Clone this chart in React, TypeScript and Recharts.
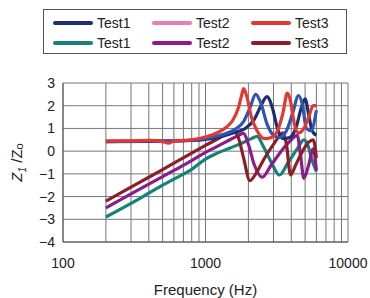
import React from "react";
import {
  LineChart,
  Line,
  XAxis,
  YAxis,
  CartesianGrid,
} from "recharts";

// frequency ticks (log grid) and y ticks
const xTicks = [
  100, 200, 300, 400, 500, 600, 700, 800, 900,
  1000, 2000, 3000, 4000, 5000, 6000, 7000, 8000, 9000, 10000,
];
const yTicks = [-4, -3, -2, -1, 0, 1, 2, 3];

// upper group
const freqNavy = [200, 400, 600, 800, 1000, 1300, 1600, 1900, 2200, 2450, 2700, 2950, 3200, 3500, 3900, 4300, 4700, 5000, 5300, 5600, 6000];
const valNavy = [0.42, 0.43, 0.45, 0.47, 0.52, 0.65, 0.82, 1.0, 1.4, 2.0, 2.4, 1.9, 1.0, 0.55, 0.6, 1.0, 1.9, 2.3, 1.6, 0.9, 0.7];

const freqBlue = [200, 400, 600, 800, 1000, 1300, 1600, 1850, 2050, 2250, 2450, 2700, 3000, 3300, 3700, 4100, 4500, 4800, 5100, 5500, 6000];
const valBlue = [0.42, 0.45, 0.45, 0.48, 0.55, 0.72, 0.95, 1.3, 1.9, 2.5, 2.1, 1.2, 0.7, 0.6, 0.9, 1.7, 2.45, 2.0, 1.0, 0.9, 1.8];

const freqRed = [200, 300, 400, 500, 550, 600, 700, 800, 1000, 1200, 1400, 1550, 1700, 1800, 1850, 1950, 2100, 2300, 2600, 2900, 3200, 3500, 3750, 3950, 4200, 4500, 4900, 5300, 5700, 6000];
const valRed = [0.45, 0.45, 0.47, 0.42, 0.35, 0.45, 0.47, 0.5, 0.62, 0.8, 1.05, 1.35, 1.9, 2.5, 2.75, 2.4, 1.5, 0.9, 0.55, 0.6, 0.9, 1.7, 2.55, 2.2, 1.2, 0.8, 1.0, 1.5, 2.0, 2.0];

// lower group
const freqTeal = [200, 300, 400, 500, 600, 800, 1000, 1200, 1500, 1800, 2100, 2300, 2550, 2900, 3300, 3800, 4400, 4900, 5200, 5600, 6000];
const valTeal = [-2.9, -2.3, -1.85, -1.5, -1.23, -0.8, -0.35, -0.1, 0.15, 0.35, 0.55, 0.65, 0.2, -0.5, -1.05, -0.5, 0.1, 0.5, 0.3, -0.4, -0.9];

const freqPurple = [200, 300, 400, 500, 600, 800, 1000, 1200, 1400, 1650, 1850, 2000, 2200, 2500, 2900, 3400, 4000, 4400, 4650, 4900, 5300, 5700, 6000];
const valPurple = [-2.5, -1.88, -1.45, -1.12, -0.85, -0.42, -0.05, 0.2, 0.42, 0.65, 0.78, 0.3, -0.6, -1.15, -0.6, 0.0, 0.5, 0.7, -0.2, -1.2, -0.6, 0.1, -0.85];

const freqMaroon = [200, 300, 400, 500, 600, 800, 1000, 1200, 1400, 1600, 1700, 1850, 2050, 2300, 2600, 3000, 3500, 3700, 3950, 4300, 4800, 5300, 5700, 6000];
const valMaroon = [-2.2, -1.58, -1.15, -0.81, -0.53, -0.09, 0.25, 0.52, 0.76, 0.85, 0.6, -0.3, -1.3, -0.9, -0.3, 0.3, 0.8, 0.3, -1.05, -0.6, 0.0, 0.4, 0.5, -0.3];

const toPoints = (f: number[], v: number[]) => f.map((x, i) => ({ f: x, v: v[i] }));

const legendItems = [
  { name: "Test1", color: "#1f2d72", x: 53, y: 23 },
  { name: "Test2", color: "#ef7ab6", x: 152, y: 23 },
  { name: "Test3", color: "#e8352f", x: 251, y: 23 },
  { name: "Test1", color: "#14817a", x: 53, y: 43 },
  { name: "Test2", color: "#8c1b8b", x: 152, y: 43 },
  { name: "Test3", color: "#8d1d26", x: 251, y: 43 },
];

const FONT = "'Liberation Sans', Arial, sans-serif";

const YLabel = (props: any) => {
  const vb = props.viewBox || {};
  const cy = vb.y + vb.height / 2;
  return (
    <text
      x={22}
      y={cy}
      transform={`rotate(-90 22 ${cy})`}
      textAnchor="middle"
      fontFamily={FONT}
      fontSize={15}
      fill="#222"
    >
      <tspan fontStyle="italic">Z</tspan>
      <tspan fontStyle="italic" fontSize={10} dy={4}>1</tspan>
      <tspan dy={-4}> /Z</tspan>
      <tspan fontSize={11} dy={1}>o</tspan>
    </text>
  );
};

export default function App() {
  const tickStyle = { fontSize: 14, fill: "#222", fontFamily: FONT };
  return (
    <div
      style={{
        position: "fixed",
        left: 0,
        top: 0,
        width: 370,
        height: 298,
        background: "#fff",
        fontFamily: FONT,
      }}
    >
      <LineChart
        width={370}
        height={298}
        margin={{ top: 83, right: 22, bottom: 0, left: 23 }}
      >
        <CartesianGrid stroke="#767676" strokeWidth={1} />
        <XAxis
          dataKey="f"
          type="number"
          scale="log"
          domain={[100, 10000]}
          ticks={xTicks}
          interval={0}
          allowDataOverflow
          tickLine={false}
          axisLine={{ stroke: "#555" }}
          tickMargin={10}
          height={56}
          tick={tickStyle}
          tickFormatter={(v: number) =>
            v === 100 || v === 1000 || v === 10000 ? String(v) : ""
          }
          label={{
            value: "Frequency (Hz)",
            position: "insideBottom",
            offset: 3,
            style: { fontSize: 15, fill: "#222", fontFamily: FONT },
          }}
        />
        <YAxis
          type="number"
          domain={[-4, 3]}
          ticks={yTicks}
          interval={0}
          tickLine={false}
          axisLine={{ stroke: "#555" }}
          width={40}
          tick={tickStyle}
          tickFormatter={(v: number) => String(v).replace("-", "\u2212")}
          label={{ content: YLabel }}
        />
        <Line data={toPoints(freqTeal, valTeal)} dataKey="v" stroke="#14817a" strokeWidth={3.2} dot={false} type="monotone" isAnimationActive={false} />
        <Line data={toPoints(freqPurple, valPurple)} dataKey="v" stroke="#8c1b8b" strokeWidth={3.2} dot={false} type="monotone" isAnimationActive={false} />
        <Line data={toPoints(freqMaroon, valMaroon)} dataKey="v" stroke="#8d1d26" strokeWidth={3.2} dot={false} type="monotone" isAnimationActive={false} />
        <Line data={toPoints(freqNavy, valNavy)} dataKey="v" stroke="#1f2d72" strokeWidth={3.2} dot={false} type="monotone" isAnimationActive={false} />
        <Line data={toPoints(freqBlue, valBlue)} dataKey="v" stroke="#2f55b3" strokeWidth={3.2} dot={false} type="monotone" isAnimationActive={false} />
        <Line data={toPoints(freqRed, valRed)} dataKey="v" stroke="#e8352f" strokeWidth={3.2} dot={false} type="monotone" isAnimationActive={false} />
      </LineChart>
      <div
        style={{
          position: "absolute",
          left: 43,
          top: 9,
          width: 304,
          height: 45,
          border: "1px solid #555",
          boxSizing: "border-box",
        }}
      />
      {legendItems.map((it, i) => (
        <div
          key={i}
          style={{
            position: "absolute",
            left: it.x,
            top: it.y - 9,
            height: 18,
            display: "flex",
            alignItems: "center",
            fontSize: 14,
            color: "#222",
          }}
        >
          <span
            style={{
              display: "inline-block",
              width: 40,
              height: 4,
              borderRadius: 2,
              background: it.color,
              marginRight: 4,
            }}
          />
          <span>{it.name}</span>
        </div>
      ))}
    </div>
  );
}
